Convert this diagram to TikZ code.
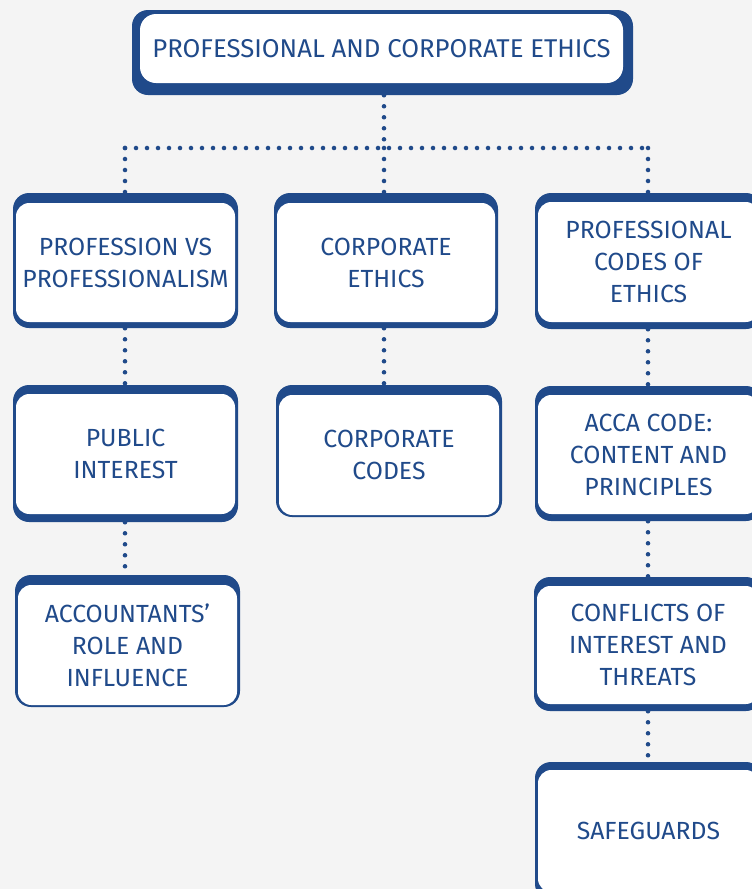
\documentclass[tikz,border=0pt]{standalone}
\usepackage{fontspec}
\setmainfont{Fira Sans}
\usetikzlibrary{fit}
\definecolor{myblue}{RGB}{32,74,138}
\definecolor{bg}{RGB}{244,244,244}
\tikzset{
  outerbox/.style={inner sep=0pt, fill=myblue, rounded corners=12pt},
  boxtext/.style={text=myblue, align=center, inner sep=0pt, font=\fontsize{18.6}{24}\selectfont},
  dotline/.style={myblue, line width=3.4pt, line cap=round, dash pattern=on 0pt off 8.25pt}
}
\newcommand\cbox[8]{%
  \node[outerbox, fit={(#2,#3)(#4,#5)}] (#1) {};
  \fill[white, rounded corners=10pt] ({#2+3},{#3+#6}) rectangle ({#4-3},{#5-#7});
  \node[boxtext] (#1-t) at ({(#2+#4)/2},{(#3+#6+#5-#7)/2}) {#8};
}
\begin{document}
\begin{tikzpicture}[x=0.75pt,y=-0.75pt]
\fill[bg] (0,0) rectangle (752,889);
\useasboundingbox (0,0) rectangle (752,889);
\clip (0,0) rectangle (752,889);
% top box
\node[outerbox, fit={(132,10)(633,95)}] (T) {};
\fill[white, rounded corners=12pt] (140,14) rectangle (623,83);
\node[boxtext, font=\fontsize{19.3}{24}\selectfont] (T-t) at (381.5,48.5) {PROFESSIONAL AND CORPORATE ETHICS};
% row 1
\cbox{A}{13}{193}{238}{328}{10}{6}{PROFESSION VS\\PROFESSIONALISM}
\cbox{B}{274}{193}{498}{328}{10}{6}{CORPORATE\\ETHICS}
\cbox{C}{535}{193}{762}{329}{9}{7}{PROFESSIONAL\\CODES OF\\ETHICS}
% row 2
\cbox{D}{13}{385}{238}{522}{9}{8}{PUBLIC\\INTEREST}
\cbox{E}{276}{385}{502}{517}{10}{2}{CORPORATE\\CODES}
\cbox{F}{535}{386}{762}{521}{9}{7}{ACCA CODE:\\CONTENT AND\\PRINCIPLES}
% row 3
\cbox{G}{15}{575}{240}{707}{10}{2}{ACCOUNTANTS’\\ROLE AND\\INFLUENCE}
\cbox{H}{534}{577}{762}{711}{9}{7}{CONFLICTS OF\\INTEREST AND\\THREATS}
% row 4
\cbox{I}{535}{762}{762}{900}{8}{8}{SAFEGUARDS}
% connectors
\coordinate (jl) at (125,148);
\coordinate (jm) at (384,148);
\coordinate (jr) at (648,148);
\draw[dotline] (T.south -| jm) -- (jm);
\draw[dotline] (jl) -- (jr);
\draw[dotline] (jl) -- (jl |- A.north);
\draw[dotline] (jm) -- (jm |- B.north);
\draw[dotline] (jr) -- (jr |- C.north);
\draw[dotline] (A.south -| jl) -- (jl |- D.north);
\draw[dotline] (B.south -| jm) -- (jm |- E.north);
\draw[dotline] (C.south -| jr) -- (jr |- F.north);
\draw[dotline] (D.south -| jl) -- (jl |- G.north);
\draw[dotline] (F.south -| jr) -- (jr |- H.north);
\draw[dotline] (H.south -| jr) -- (jr |- I.north);
\end{tikzpicture}
\end{document}
